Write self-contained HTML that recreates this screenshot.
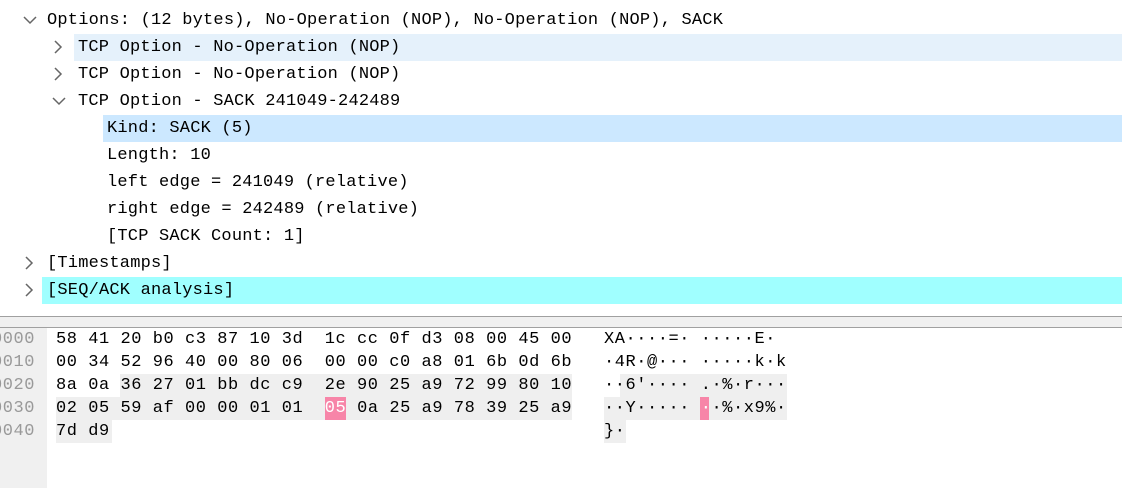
<!DOCTYPE html>
<html><head><meta charset="utf-8"><style>
body{margin:0;width:1122px;height:488px;overflow:hidden;background:#fff;position:relative;font-family:"Liberation Mono",monospace;}
.t{position:absolute;font-size:17px;letter-spacing:0.2px;height:27px;line-height:27px;white-space:pre;color:#000}
.hl{position:absolute;height:27px}
.h{position:absolute;font-size:17px;letter-spacing:0.55px;height:23px;line-height:23px;white-space:pre;color:#000}
.o{color:#999;letter-spacing:0.55px}
.g{position:absolute;background:#efefef;height:23px}
svg.c{position:absolute}
</style></head><body>
<div class="hl" style="left:74px;top:34px;width:1048px;background:#e5f1fb"></div>
<div class="hl" style="left:103px;top:115px;width:1019px;background:#cce8ff"></div>
<div class="hl" style="left:42px;top:277px;width:1080px;background:#a0ffff"></div>

<svg class="c" style="left:0;top:0" width="80" height="300">
<g fill="none" stroke="#666" stroke-width="1.5">
<polyline points="24,17 30,23 36,17"/>
<polyline points="55,41 61,47 55,53"/>
<polyline points="55,68 61,74 55,80"/>
<polyline points="53,98 59,104 65,98"/>
<polyline points="26,257 32,263 26,269"/>
<polyline points="26,284 32,290 26,296"/>
</g></svg>

<div class="t" style="left:47px;top:7px">Options: (12 bytes), No-Operation (NOP), No-Operation (NOP), SACK</div>
<div class="t" style="left:78px;top:34px">TCP Option - No-Operation (NOP)</div>
<div class="t" style="left:78px;top:61px">TCP Option - No-Operation (NOP)</div>
<div class="t" style="left:78px;top:88px">TCP Option - SACK 241049-242489</div>
<div class="t" style="left:107px;top:115px">Kind: SACK (5)</div>
<div class="t" style="left:107px;top:142px">Length: 10</div>
<div class="t" style="left:107px;top:169px">left edge = 241049 (relative)</div>
<div class="t" style="left:107px;top:196px">right edge = 242489 (relative)</div>
<div class="t" style="left:107px;top:223px">[TCP SACK Count: 1]</div>
<div class="t" style="left:47px;top:250px">[Timestamps]</div>
<div class="t" style="left:47px;top:277px">[SEQ/ACK analysis]</div>

<div style="position:absolute;left:0;top:316px;width:1122px;height:1px;background:#a0a0a0"></div>
<div style="position:absolute;left:0;top:317px;width:1122px;height:10px;background:#f0f0f0"></div>
<div style="position:absolute;left:0;top:327px;width:1122px;height:1px;background:#a0a0a0"></div>
<div style="position:absolute;left:0;top:328px;width:47px;height:160px;background:#f0f0f0"></div>

<div class="g" style="left:120px;top:374px;width:452px"></div>
<div class="g" style="left:56px;top:397px;width:516px"></div>
<div class="g" style="left:56px;top:420px;width:56px"></div>
<div class="g" style="left:620px;top:374px;width:167px"></div>
<div class="g" style="left:604px;top:397px;width:183px"></div>
<div class="g" style="left:604px;top:420px;width:22px"></div>
<div style="position:absolute;left:325px;top:397px;width:21px;height:23px;background:#f785a8"></div>
<div style="position:absolute;left:700px;top:397px;width:9px;height:23px;background:#f785a8"></div>

<div class="h o" style="left:-8px;top:328px">0000</div>
<div class="h o" style="left:-8px;top:351px">0010</div>
<div class="h o" style="left:-8px;top:374px">0020</div>
<div class="h o" style="left:-8px;top:397px">0030</div>
<div class="h o" style="left:-8px;top:420px">0040</div>

<div class="h" style="left:56px;top:328px">58 41 20 b0 c3 87 10 3d  1c cc 0f d3 08 00 45 00</div>
<div class="h" style="left:56px;top:351px">00 34 52 96 40 00 80 06  00 00 c0 a8 01 6b 0d 6b</div>
<div class="h" style="left:56px;top:374px">8a 0a 36 27 01 bb dc c9  2e 90 25 a9 72 99 80 10</div>
<div class="h" style="left:56px;top:397px">02 05 59 af 00 00 01 01  <span style="color:#fff">05</span> 0a 25 a9 78 39 25 a9</div>
<div class="h" style="left:56px;top:420px">7d d9</div>

<div class="h" style="left:604px;top:328px">XA····=· ·····E·</div>
<div class="h" style="left:604px;top:351px">·4R·@··· ·····k·k</div>
<div class="h" style="left:604px;top:374px">··6'···· .·%·r···</div>
<div class="h" style="left:604px;top:397px">··Y····· <span style="color:#fff">·</span>·%·x9%·</div>
<div class="h" style="left:604px;top:420px">}·</div>
</body></html>
